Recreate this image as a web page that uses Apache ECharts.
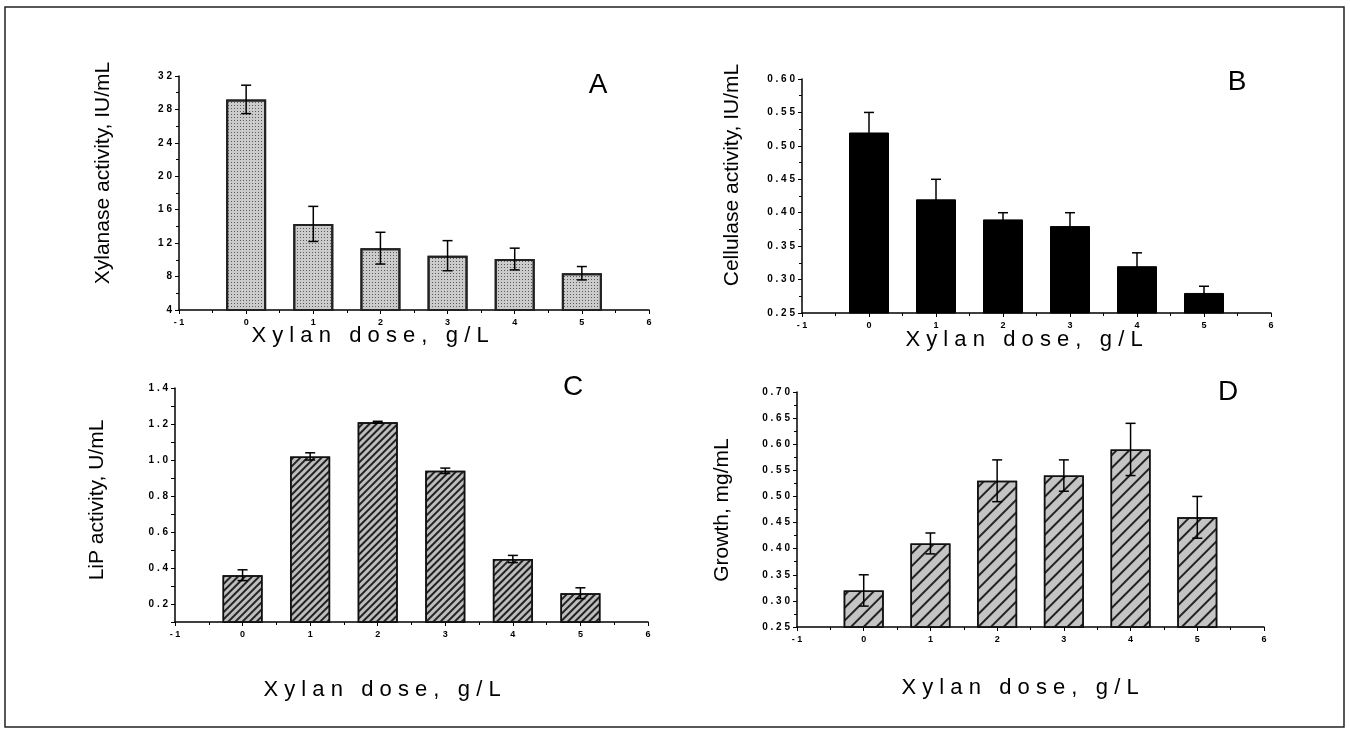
<!DOCTYPE html>
<html>
<head>
<meta charset="utf-8">
<script src="https://cdn.jsdelivr.net/npm/echarts@6/dist/echarts.min.js"></script>
<style>
  body { margin: 0; background: #fff; }
  #main { width: 1350px; height: 730px; }
</style>
</head>
<body>
<div id="main"></div>
<script>
// xylan dose, g/L
const doses = [0, 1, 2, 3, 4, 5];
// A - xylanase activity, IU/mL
const xylanase = [29.2, 14.3, 11.4, 10.5, 10.1, 8.4];
const xylanaseErr = [1.7, 2.1, 1.9, 1.8, 1.3, 0.8];
// B - cellulase activity, IU/mL
const cellulase = [0.52, 0.42, 0.39, 0.38, 0.32, 0.28];
const cellulaseErr = [0.03, 0.03, 0.01, 0.02, 0.02, 0.01];
// C - LiP activity, U/mL
const lip = [0.36, 1.02, 1.21, 0.94, 0.45, 0.26];
const lipErr = [0.03, 0.02, 0.005, 0.015, 0.02, 0.03];
// D - growth, mg/mL
const growth = [0.32, 0.41, 0.53, 0.54, 0.59, 0.46];
const growthErr = [0.03, 0.02, 0.04, 0.03, 0.05, 0.04];

const yTitles = ['Xylanase activity, IU/mL', 'Cellulase activity, IU/mL', 'LiP activity, U/mL', 'Growth, mg/mL'];
const xTitle = 'X y l a n   d o s e ,   g / L';
const panelLetters = ['A', 'B', 'C', 'D'];

const FONT = '"Liberation Sans", Arial, sans-serif';

// spread the tick digits a bit, like the scanned figure
function spaced(s) {
    return String(s).split('').join(' ');
}

const grids = [
    {left: 179, top: 76, width: 470, height: 234},
    {left: 802, top: 79, width: 469, height: 234},
    {left: 175, top: 388, width: 473, height: 234},
    {left: 797, top: 392, width: 467, height: 235}
];

const yRanges = [
    {min: 4, max: 32, interval: 4, fmt: v => spaced(v)},
    {min: 0.25, max: 0.60, interval: 0.05, fmt: v => spaced(v.toFixed(2))},
    {min: 0.1, max: 1.4, interval: 0.1, fmt: v => (Math.round(v * 10) % 2 === 0 ? spaced(v.toFixed(1)) : '')},
    {min: 0.25, max: 0.70, interval: 0.05, fmt: v => spaced(v.toFixed(2))}
];

const barStyles = [
    {color: '#cbcbcb', borderColor: '#222', borderWidth: 2,
        decal: {symbol: 'rect', symbolSize: 1, dashArrayX: [1, 2], dashArrayY: [1, 2], color: '#5a5a5a'}},
    {color: '#000', borderColor: '#000', borderWidth: 1},
    {color: '#bdbdbd', borderColor: '#111', borderWidth: 1.5,
        decal: {symbol: 'rect', symbolSize: 1, dashArrayX: [1, 0], dashArrayY: [2, 3], rotation: -Math.PI / 4, color: '#222'}},
    {color: '#c4c4c4', borderColor: '#111', borderWidth: 1.5,
        decal: {symbol: 'rect', symbolSize: 1, dashArrayX: [1, 0], dashArrayY: [2, 7], rotation: -Math.PI / 4, color: '#222'}}
];

const means = [xylanase, cellulase, lip, growth];
const errs = [xylanaseErr, cellulaseErr, lipErr, growthErr];

function errorBar(params, api) {
    const x = api.value(0);
    const m = api.value(1);
    const e = api.value(2);
    const hi = api.coord([x, m + e]);
    const lo = api.coord([x, m - e]);
    const cap = 5;
    const st = {stroke: '#000', lineWidth: 1.5};
    return {
        type: 'group',
        children: [
            {type: 'line', shape: {x1: hi[0], y1: hi[1], x2: lo[0], y2: lo[1]}, style: st},
            {type: 'line', shape: {x1: hi[0] - cap, y1: hi[1], x2: hi[0] + cap, y2: hi[1]}, style: st},
            {type: 'line', shape: {x1: lo[0] - cap, y1: lo[1], x2: lo[0] + cap, y2: lo[1]}, style: st}
        ]
    };
}

const xAxes = [], yAxes = [], series = [];
for (let i = 0; i < 4; i++) {
    xAxes.push({
        gridIndex: i,
        type: 'value',
        min: -1, max: 6, interval: 1,
        splitLine: {show: false},
        axisLine: {onZero: false, lineStyle: {color: '#000', width: 1.5}},
        axisTick: {show: true, length: 4, lineStyle: {color: '#000'}},
        minorTick: {show: true, splitNumber: 2, length: 3, lineStyle: {color: '#000'}},
        axisLabel: {color: '#000', fontSize: 9, fontWeight: 'bold', fontFamily: FONT, margin: 8,
            formatter: v => spaced(v)}
    });
    yAxes.push({
        gridIndex: i,
        type: 'value',
        min: yRanges[i].min, max: yRanges[i].max, interval: yRanges[i].interval,
        splitLine: {show: false},
        axisLine: {show: true, onZero: false, lineStyle: {color: '#000', width: 1.5}},
        axisTick: {show: true, length: 4, lineStyle: {color: '#000'}},
        minorTick: {show: i !== 2, splitNumber: 2, length: 3, lineStyle: {color: '#000'}},
        axisLabel: {color: '#000', fontSize: 10, fontWeight: 'bold', fontFamily: FONT, margin: 7,
            formatter: yRanges[i].fmt}
    });
    series.push({
        type: 'bar',
        xAxisIndex: i, yAxisIndex: i,
        barWidth: 40,
        clip: true,
        itemStyle: barStyles[i],
        data: doses.map((d, k) => [d, means[i][k]]),
        z: 2
    });
    series.push({
        type: 'custom',
        xAxisIndex: i, yAxisIndex: i,
        renderItem: errorBar,
        data: doses.map((d, k) => [d, means[i][k], errs[i][k]]),
        z: 3
    });
}

const titlePos = {
    y: [[103, 173], [732, 175], [97, 500], [722, 510]],
    x: [[370, 336], [1024, 340], [382, 690], [1020, 688]],
    letter: [[598, 85], [1237, 82], [573, 387], [1228, 392]]
};

const graphics = [{
    type: 'rect',
    shape: {x: 5, y: 7, width: 1339, height: 720},
    style: {fill: 'none', stroke: '#222', lineWidth: 1.5}
}];
for (let i = 0; i < 4; i++) {
    graphics.push({
        type: 'text', x: titlePos.y[i][0], y: titlePos.y[i][1], rotation: Math.PI / 2,
        style: {text: yTitles[i], font: '21px ' + FONT, fill: '#000', align: 'center', verticalAlign: 'middle'}
    });
    graphics.push({
        type: 'text', x: titlePos.x[i][0], y: titlePos.x[i][1],
        style: {text: xTitle, font: '22px ' + FONT, fill: '#000', align: 'center', verticalAlign: 'middle'}
    });
    graphics.push({
        type: 'text', x: titlePos.letter[i][0], y: titlePos.letter[i][1],
        style: {text: panelLetters[i], font: '28px ' + FONT, fill: '#000', align: 'center', verticalAlign: 'middle'}
    });
}

let myChart = echarts.init(document.getElementById('main'));
myChart.setOption({
    animation: false,
    backgroundColor: '#fff',
    grid: grids,
    xAxis: xAxes,
    yAxis: yAxes,
    series: series,
    graphic: graphics
});
</script>
</body>
</html>
